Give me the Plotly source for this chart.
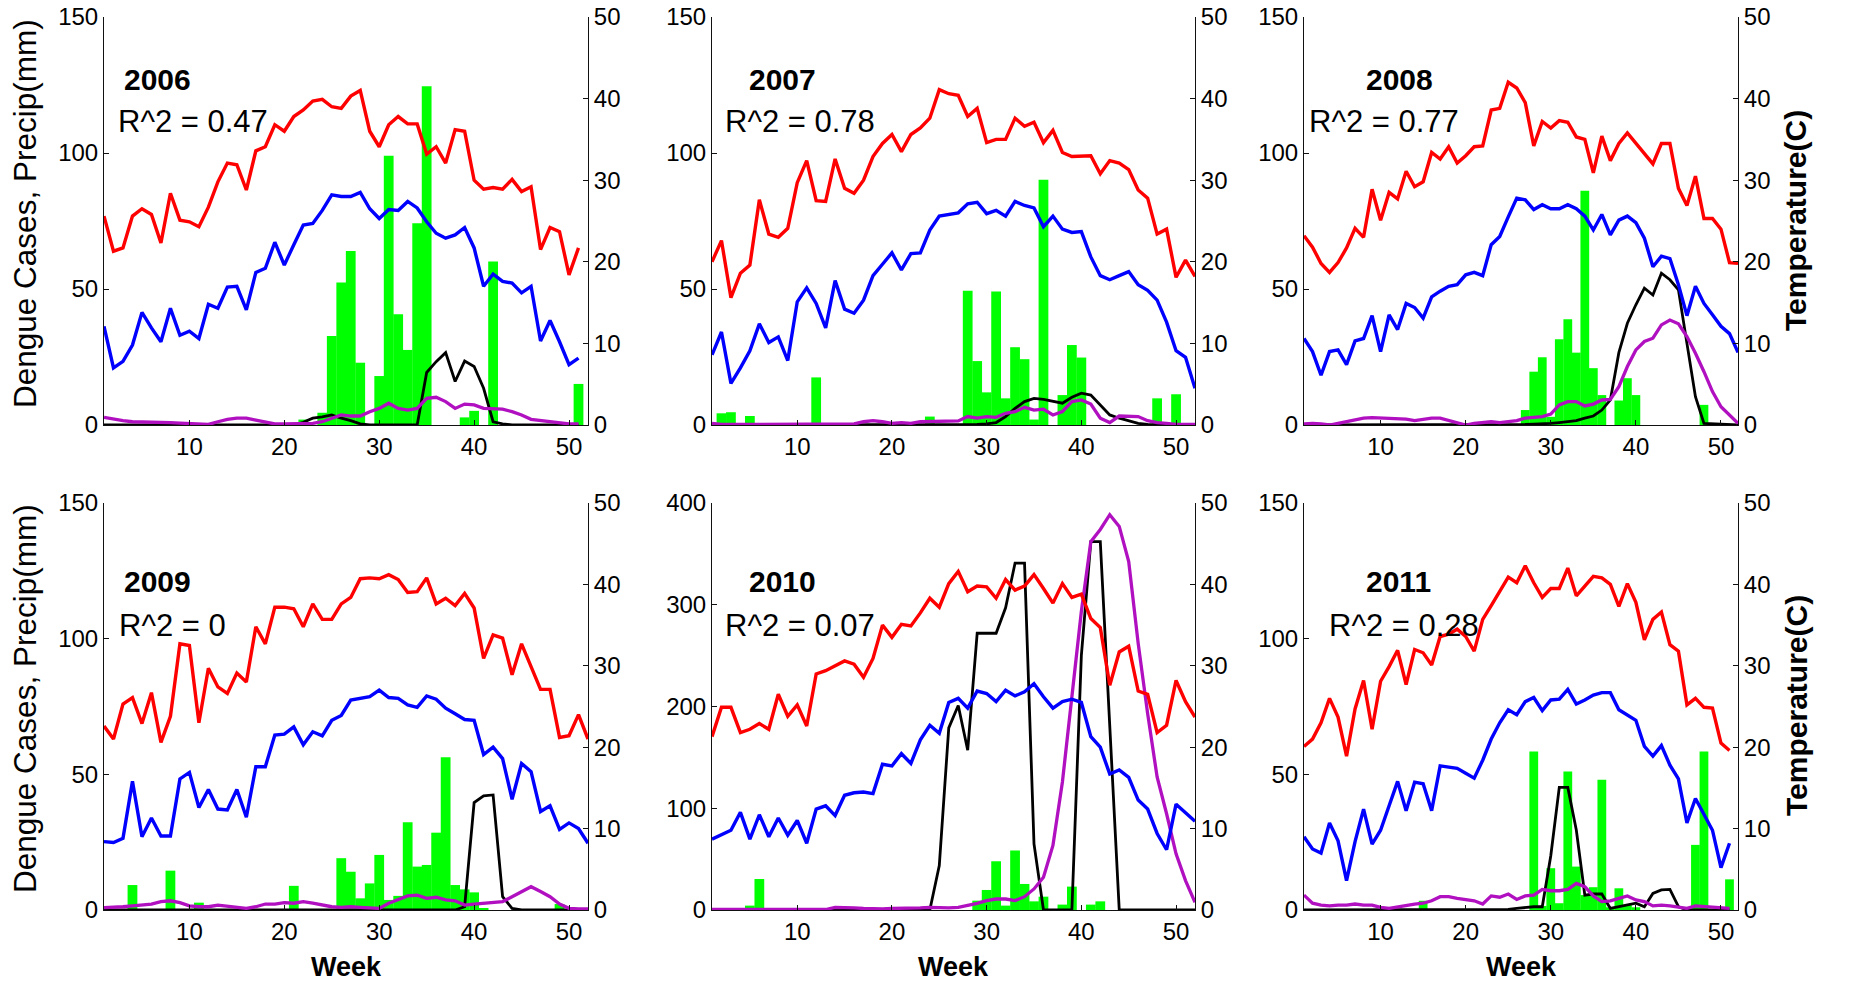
import plotly.graph_objects as go

W, H = 1872, 982
FONT = "Liberation Sans, Arial, sans-serif"

weeks = list(range(1, 53))

# ---------------- 2006 ----------------
tmax_2006 = [25.6, 21.3, 21.7, 25.6, 26.5, 25.8, 22.3, 28.4, 25.1, 24.9,
             24.3, 26.7, 29.8, 32.1, 31.9, 28.8, 33.6, 34.1, 36.8, 36.0,
             37.8, 38.6, 39.7, 39.9, 39.0, 38.8, 40.3, 41.0, 36.0, 34.1,
             36.8, 37.8, 36.9, 36.9, 33.2, 34.1, 32.1, 36.2, 36.0, 30.0,
             28.9, 29.1, 28.9, 30.1, 28.6, 29.2, 21.5, 24.2, 23.7, 18.4,
             21.7]
tmin_2006 = [12.1, 7.0, 7.8, 9.8, 13.8, 11.9, 10.2, 14.3, 11.0, 11.5,
             10.6, 14.8, 14.3, 16.9, 17.0, 14.1, 18.7, 19.2, 22.4, 19.6,
             22.1, 24.5, 24.7, 26.3, 28.2, 28.0, 28.0, 28.5, 26.5, 25.3,
             26.4, 26.3, 27.4, 26.6, 24.9, 23.5, 22.9, 23.3, 24.2, 21.7,
             17.0, 18.5, 17.6, 17.4, 16.2, 17.0, 10.3, 12.8, 10.2, 7.4,
             8.2]
precip_2006 = [0, 0, 0, 0, 0, 0, 0, 0, 0, 0,
               0, 0, 0, 0, 0, 0, 0, 0, 0, 0,
               0, 2, 0, 4.5, 32.7, 52.4, 64.0, 22.9, 0, 18.0,
               99.0, 40.7, 27.6, 74.2, 124.5, 0, 0, 0, 2.8, 5.2,
               0, 60.1, 0, 0, 0, 0, 0, 0, 0, 0,
               15.1]
cases_2006 = [0, 0, 0, 0, 0, 0, 0, 0, 0, 0,
              0, 0, 0, 0, 0, 0, 0, 0, 0, 0,
              0, 1.0, 2.5, 3.0, 3.7, 2.5, 1.6, 0.4, 0, 0,
              0, 0, 0, 0, 19.3, 23.3, 26.6, 16.0, 23.5, 21.5,
              13.5, 1.2, 0.4, 0, 0, 0, 0, 0, 0, 0,
              0]
pred_2006 = [2.8, 2.1, 1.6, 1.2, 1.2, 0.9, 0.9, 0.9, 0.7, 0.6,
             0.2, 0.2, 1.2, 2.1, 2.5, 2.5, 1.8, 1.2, 0.4, 0.4,
             0.4, 0.4, 0.6, 1.2, 2.5, 3.7, 3.3, 3.3, 4.9, 6.1,
             8.0, 6.1, 5.5, 6.1, 9.8, 10.2, 8.6, 6.1, 7.7, 7.4,
             6.1, 5.8, 5.8, 4.9, 3.7, 2.1, 1.6, 1.2, 0.6, 0.4,
             0.4]

# ---------------- 2007 ----------------
tmax_2007 = [20.0, 22.6, 15.6, 18.6, 19.6, 27.6, 23.4, 23.0, 24.1, 29.7,
             32.4, 27.5, 27.4, 32.6, 29.0, 28.4, 30.0, 32.9, 34.5, 35.6,
             33.5, 35.6, 36.4, 37.6, 41.1, 40.6, 40.4, 37.8, 38.8, 34.6,
             35.0, 35.0, 37.6, 36.6, 37.1, 34.6, 36.1, 33.4, 32.9, 32.9,
             33.0, 30.8, 32.4, 32.1, 31.3, 28.8, 27.8, 23.4, 24.0, 18.1,
             20.2, 18.2]
tmin_2007 = [8.6, 11.4, 5.1, 7.0, 9.1, 12.4, 10.1, 10.8, 7.9, 15.1,
             16.8, 14.9, 11.9, 17.7, 14.2, 13.7, 15.3, 18.3, 19.7, 21.1,
             19.0, 21.0, 21.1, 23.9, 25.6, 25.8, 26.0, 27.1, 27.3, 25.9,
             26.3, 25.6, 27.4, 26.9, 26.6, 24.3, 25.6, 24.0, 23.6, 23.7,
             20.6, 18.3, 17.8, 18.3, 18.8, 17.2, 16.5, 15.3, 12.6, 9.1,
             8.3, 4.5]
precip_2007 = [0, 4.3, 4.7, 0, 3.3, 0, 0, 0, 0, 0,
               0, 17.5, 0, 0, 0, 0, 0, 0, 0, 0,
               0, 0, 0, 3.1, 0, 0, 0, 49.4, 23.5, 12.0,
               49.1, 9.8, 28.6, 24.2, 2.0, 90.2, 0, 11.0, 29.4, 24.8,
               0, 0, 0, 0, 0, 0, 0, 9.8, 0, 11.3,
               0, 0]
cases_2007 = [0, 0, 0, 0, 0, 0, 0, 0, 0, 0,
              0, 0, 0, 0, 0, 0, 0, 0, 0, 0,
              0, 0, 0, 0, 0, 0, 0, 0, 0.2, 0.4,
              0.9, 3.1, 6.1, 8.6, 9.8, 9.4, 8.6, 8.0, 10.2, 11.7,
              11.0, 7.4, 3.7, 2.5, 1.6, 0.6, 0.2, 0, 0, 0,
              0, 0]
pred_2007 = [0.6, 0.2, 0.2, 0.2, 0.2, 0.2, 0.2, 0.2, 0.2, 0.2,
             0.2, 0.2, 0.2, 0.2, 0.2, 0.4, 1.2, 1.6, 1.2, 0.6,
             0.9, 0.6, 1.2, 1.2, 1.2, 1.2, 1.5, 3.1, 2.5, 3.1,
             2.8, 4.3, 4.9, 6.5, 5.5, 5.8, 3.7, 4.9, 8.6, 9.2,
             7.7, 2.5, 0.9, 3.3, 3.3, 3.1, 1.6, 0.9, 0.6, 0.2,
             0.2, 0.2]

# ---------------- 2008 ----------------
tmax_2008 = [23.2, 21.8, 19.8, 18.7, 19.9, 21.7, 24.1, 23.0, 28.9, 25.1,
             28.5, 27.7, 31.1, 29.2, 29.8, 33.4, 32.6, 34.1, 32.1, 33.0,
             34.1, 34.2, 38.6, 38.8, 42.0, 41.3, 39.5, 34.2, 37.2, 36.4,
             37.3, 37.1, 35.3, 35.0, 30.9, 35.4, 32.4, 34.5, 35.8, 34.5,
             33.3, 32.0, 34.5, 34.5, 29.0, 26.9, 30.5, 25.3, 25.3, 24.0,
             19.9, 19.8]
tmin_2008 = [10.6, 9.0, 6.1, 9.0, 9.2, 7.4, 10.3, 10.6, 13.4, 9.0,
             13.5, 11.7, 14.9, 14.4, 13.1, 15.7, 16.4, 17.0, 17.2, 18.4,
             18.7, 18.3, 22.1, 23.1, 25.5, 27.8, 27.6, 26.4, 27.0, 26.5,
             26.5, 27.0, 26.5, 25.6, 23.9, 25.8, 23.3, 25.1, 25.6, 24.8,
             22.9, 19.4, 20.7, 20.4, 17.2, 13.4, 17.0, 14.9, 13.5, 12.1,
             11.2, 8.9]
precip_2008 = [0, 0, 0, 0, 0, 0, 0, 0, 0, 0,
               0, 0, 0, 0, 0, 0, 0, 0, 0, 0,
               0, 0, 0, 0, 0, 0, 5.5, 19.6, 24.9, 3.0,
               31.5, 38.9, 26.6, 86.1, 20.9, 11.0, 0, 9.0, 17.2, 11.0,
               0, 0, 0, 0, 0, 0, 0, 7.4, 0, 0,
               0, 0]
cases_2008 = [0, 0, 0, 0, 0, 0, 0, 0, 0, 0,
              0, 0, 0, 0, 0, 0, 0, 0, 0, 0,
              0, 0, 0, 0, 0, 0, 0.2, 0.3, 0.4, 0.6,
              0.9, 1.2, 1.6, 2.5, 3.3, 5.5, 9.2, 26.6, 37.4, 44.2,
              50.3, 47.8, 55.8, 53.4, 49.7, 30.0, 10.4, 0.6, 0.4, 0.2,
              0.1, 0]
pred_2008 = [0.4, 0.6, 0.4, 0, 0.6, 1.2, 1.8, 2.5, 2.7, 2.5,
             2.5, 2.2, 2.2, 1.6, 2.1, 2.5, 2.5, 1.6, 0.6, 0,
             0.6, 0.9, 1.2, 0.9, 1.2, 1.6, 2.5, 2.8, 3.1, 4.0,
             7.4, 8.6, 8.6, 7.0, 7.7, 9.2, 9.4, 14.1, 21.5, 27.6,
             30.7, 31.9, 36.8, 38.6, 37.2, 32.5, 26.4, 19.6, 12.3, 6.7,
             3.7, 0.6]

# ---------------- 2009 ----------------
tmax_2009 = [22.6, 21.0, 25.3, 26.1, 22.9, 26.7, 20.6, 23.8, 32.7, 32.5,
             23.0, 29.7, 27.4, 26.6, 29.1, 28.0, 34.8, 32.7, 37.2, 37.2,
             37.0, 34.8, 37.6, 35.7, 35.7, 37.6, 38.4, 40.7, 40.8, 40.7,
             41.2, 40.6, 39.0, 39.1, 40.8, 37.6, 38.3, 37.4, 38.9, 37.1,
             30.9, 33.8, 33.4, 28.9, 32.7, 29.8, 27.1, 27.1, 21.2, 21.4,
             24.0, 21.0]
tmin_2009 = [8.4, 8.3, 8.8, 15.8, 9.0, 11.3, 9.1, 9.1, 16.1, 16.9,
             12.6, 14.8, 12.4, 12.3, 14.8, 11.4, 17.6, 17.6, 21.5, 21.6,
             22.5, 20.3, 21.9, 21.4, 23.3, 23.9, 25.8, 26.0, 26.2, 27.0,
             26.1, 26.0, 25.2, 24.9, 26.3, 25.9, 24.8, 24.1, 23.4, 23.3,
             19.1, 20.0, 18.6, 13.6, 18.0, 17.0, 12.1, 12.8, 9.9, 10.7,
             10.0, 8.2]
precip_2009 = [0, 0, 0, 9.2, 0, 0, 0, 14.5, 0, 0,
               2.7, 0, 0, 0, 0, 0, 0, 0, 0, 0,
               8.9, 0, 0, 0, 0, 19.1, 14.1, 4.3, 9.8, 20.3,
               3.7, 5.2, 32.3, 16.0, 16.6, 28.5, 56.3, 9.2, 7.6, 6.5,
               0.6, 0, 0, 0, 0, 0, 0, 0, 2.2, 0,
               0, 0]
cases_2009 = [0, 0, 0, 0, 0, 0, 0, 0, 0, 0,
              0, 0, 0, 0, 0, 0, 0, 0, 0, 0,
              0, 0, 0, 0, 0, 0, 0, 0, 0, 0,
              0, 0, 0, 0, 0, 0, 0, 0, 1.2, 39.6,
              42.1, 42.4, 4.9, 0.6, 0, 0, 0, 0, 0, 0,
              0, 0]
pred_2009 = [0.9, 0.9, 1.2, 1.5, 1.8, 2.2, 3.1, 3.4, 2.7, 1.5,
             1.2, 1.2, 1.8, 1.5, 1.0, 0.6, 1.2, 2.2, 2.2, 2.7,
             2.5, 3.1, 2.5, 1.8, 1.2, 1.0, 1.2, 1.0, 0.9, 0.6,
             2.5, 3.9, 5.2, 5.5, 4.3, 4.7, 3.7, 3.4, 1.8, 2.2,
             2.5, 3.1, 3.1, 4.9, 6.8, 8.6, 6.8, 4.9, 2.2, 0.6,
             0.4, 0.4]

# ---------------- 2010 ----------------
tmax_2010 = [21.3, 24.9, 24.9, 21.8, 22.2, 22.9, 22.2, 26.5, 23.8, 25.2,
             22.6, 29.0, 29.4, 30.0, 30.6, 30.2, 28.6, 30.9, 35.0, 33.5,
             35.1, 34.9, 36.5, 38.3, 37.2, 40.1, 41.6, 39.1, 39.8, 39.7,
             38.3, 40.6, 39.3, 39.8, 41.2, 39.5, 37.7, 40.1, 38.4, 38.8,
             35.8, 34.7, 27.6, 31.7, 32.4, 26.9, 26.5, 21.8, 22.7, 28.2,
             25.6, 23.7]
tmin_2010 = [8.7, 9.3, 9.8, 12.0, 8.7, 11.7, 9.0, 11.3, 9.2, 11.0,
             8.2, 12.4, 12.8, 11.6, 14.1, 14.4, 14.5, 14.3, 17.9, 17.7,
             19.2, 18.0, 20.9, 22.7, 21.7, 25.5, 26.0, 24.8, 26.9, 26.6,
             25.6, 27.0, 26.3, 26.8, 27.8, 26.2, 24.8, 25.6, 25.9, 25.5,
             21.3, 20.0, 16.7, 17.2, 16.3, 13.5, 12.4, 9.4, 7.4, 13.0,
             12.0, 10.9]
precip_2010 = [0, 0, 0, 0, 4.3, 30.5, 0, 0, 0, 0,
               0, 0, 0, 0, 0, 0, 0, 0, 0, 0,
               0, 0, 0, 0, 0, 0, 0, 0, 9.2, 19.7,
               47.9, 4.3, 58.5, 25.6, 8.5, 13.1, 0, 5.3, 23.0, 0,
               5.3, 8.5, 0, 0, 0, 0, 0, 0, 0, 0,
               0, 0]
cases_2010 = [0, 0, 0, 0, 0, 0, 0, 0, 0, 0,
              0, 0, 0, 0, 0, 0, 0, 0, 0, 0,
              0, 0, 0, 0, 43.7, 179, 201, 157, 272, 272,
              272, 297, 341, 341, 65, 0, 0, 0, 0, 250,
              362, 362, 180, 0, 0, 0, 0, 0, 0, 0,
              0, 0]
pred_2010 = [0.5, 0.5, 0.5, 0.5, 0.5, 0.5, 0.5, 0.5, 0.5, 0.5,
             0.5, 0.5, 0.5, 2.6, 2.6, 2.0, 1.5, 1.2, 1.2, 1.5,
             1.5, 1.5, 2.0, 2.6, 2.0, 2.0, 2.6, 4.3, 6.6, 9.2,
             10.8, 10.8, 9.2, 13.1, 20.7, 32.2, 63.4, 125.8, 212.8, 293.3,
             362, 374, 388.5, 377, 342.5, 262, 193, 130.7, 94.6, 55.2,
             28.9, 7.6]

# ---------------- 2011 ----------------
tmax_2011 = [20.1, 21.0, 23.0, 26.0, 23.7, 18.9, 24.7, 28.2, 22.2, 28.1,
             29.9, 31.9, 27.7, 32.0, 31.6, 30.1, 33.6, 33.9, 34.5, 33.6,
             31.8, 35.7, 37.4, 39.1, 40.9, 40.2, 42.3, 40.2, 38.4, 39.5,
             39.5, 42.0, 38.6, 39.8, 41.0, 40.8, 40.0, 37.3, 40.1, 37.8,
             33.2, 35.7, 36.6, 32.6, 31.8, 25.2, 26.0, 24.9, 24.8, 20.5,
             19.6]
tmin_2011 = [9.0, 7.5, 7.0, 10.7, 8.5, 3.6, 8.4, 12.4, 8.1, 9.8,
             12.8, 15.8, 12.2, 15.7, 15.5, 12.2, 17.7, 17.5, 17.4, 16.8,
             16.2, 18.4, 21.0, 23.0, 24.6, 24.0, 25.6, 26.1, 24.5, 25.8,
             25.9, 27.1, 25.3, 25.8, 26.4, 26.7, 26.7, 24.6, 24.0, 23.3,
             20.1, 18.9, 20.2, 17.8, 16.1, 10.7, 13.7, 11.7, 9.8, 5.2,
             8.2]
precip_2011 = [0, 0, 0, 0, 0, 0, 0, 0, 0, 0,
               0, 0, 0, 0, 3.4, 0, 0, 0, 0, 0,
               0, 0, 0, 0, 0, 0, 0, 58.4, 1.5, 15.4,
               2.5, 51.0, 16.0, 5.5, 8.4, 48.0, 1.0, 8.0, 1.8, 1.0,
               0, 0, 0, 0, 0, 0, 24.0, 58.4, 0, 0,
               11.3]
cases_2011 = [0, 0, 0, 0, 0, 0, 0, 0, 0, 0,
              0, 0, 0, 0, 0, 0, 0, 0, 0, 0,
              0, 0, 0, 0, 0.2, 0.6, 1.0, 1.2, 1.2, 20.0,
              45.2, 45.2, 29.5, 5.5, 5.9, 5.9, 0.6, 1.2, 1.8, 2.5,
              1.2, 6.1, 7.4, 7.6, 1.2, 0, 0, 0, 0, 0,
              0]
pred_2011 = [5.5, 2.5, 1.8, 1.5, 1.8, 1.8, 2.2, 1.8, 1.8, 1.0,
             0.6, 1.2, 1.5, 2.2, 2.5, 3.4, 4.9, 4.9, 4.3, 3.7,
             3.4, 2.2, 5.2, 4.7, 5.9, 3.9, 5.2, 5.5, 7.6, 7.1,
             7.1, 7.6, 9.8, 8.6, 5.2, 3.1, 3.4, 4.3, 5.2, 3.7,
             3.1, 1.5, 1.8, 1.5, 1.2, 0.6, 1.5, 1.2, 1.0, 0.6,
             0.6]

year_labels = ["2006", "2007", "2008", "2009", "2010", "2011"]
r2_labels = ["R^2 = 0.47", "R^2 = 0.78", "R^2 = 0.77", "R^2 = 0", "R^2 = 0.07", "R^2 = 0.28"]
left_max = [150, 150, 150, 150, 400, 150]
left_ticks = [[0, 50, 100, 150]] * 4 + [[0, 100, 200, 300, 400]] + [[0, 50, 100, 150]]
temp_ticks = [0, 10, 20, 30, 40, 50]
week_ticks = [10, 20, 30, 40, 50]

series = [
    (tmax_2006, tmin_2006, precip_2006, cases_2006, pred_2006),
    (tmax_2007, tmin_2007, precip_2007, cases_2007, pred_2007),
    (tmax_2008, tmin_2008, precip_2008, cases_2008, pred_2008),
    (tmax_2009, tmin_2009, precip_2009, cases_2009, pred_2009),
    (tmax_2010, tmin_2010, precip_2010, cases_2010, pred_2010),
    (tmax_2011, tmin_2011, precip_2011, cases_2011, pred_2011),
]

# panel boxes in pixels (left, right, top, bottom)
boxes = [
    (104, 588, 17, 425), (712, 1195, 17, 425), (1304, 1738, 17, 425),
    (104, 588, 503, 910), (712, 1195, 503, 910), (1304, 1738, 503, 910),
]
# text positions in pixels: (year x-left, r2 x-left, year y-centre, r2 y-centre)
text_pos = [(122, 116, 79, 121.5), (747, 723, 79, 121.5), (1364, 1307, 79, 121.5),
            (122, 117, 581, 625), (747, 723, 581, 625), (1364, 1327, 581, 625)]

RED, BLUE, GREEN, BLACK, PURPLE = "#FF0000", "#0000FF", "#00FF00", "#000000", "#B010C0"


def px(x):
    return x / W


def py(y):
    return 1 - y / H


def ref(prefix, n):
    return prefix if n == 1 else f"{prefix}{n}"


fig = go.Figure()
layout = {}
annotations = []

axis_common = dict(
    showgrid=False, zeroline=False, showline=True, linecolor="#111111", linewidth=1,
    ticks="inside", ticklen=5, tickwidth=1, tickcolor="#111111", automargin=False,
    tickfont=dict(family=FONT, size=24, color="black"),
)

for k in range(6):
    tmax, tmin, precip, cases, pred = series[k]
    xid, yl, yr = k + 1, 2 * k + 1, 2 * k + 2
    xr, ylr, yrr = ref("x", xid), ref("y", yl), ref("y", yr)
    l, r, t, b = boxes[k]

    wk = weeks[:len(precip)]
    fig.add_trace(go.Bar(x=wk, y=precip, width=[1.03] * len(wk),
                         marker=dict(color=GREEN, line=dict(width=0)),
                         xaxis=xr, yaxis=ylr, showlegend=False))
    fig.add_trace(go.Scatter(x=weeks[:len(cases)], y=cases, mode="lines", line=dict(color=BLACK, width=2.8),
                             xaxis=xr, yaxis=ylr, showlegend=False))
    fig.add_trace(go.Scatter(x=weeks[:len(pred)], y=pred, mode="lines", line=dict(color=PURPLE, width=3.3),
                             xaxis=xr, yaxis=ylr, showlegend=False))
    fig.add_trace(go.Scatter(x=weeks[:len(tmax)], y=tmax, mode="lines", line=dict(color=RED, width=3.4),
                             xaxis=xr, yaxis=yrr, showlegend=False))
    fig.add_trace(go.Scatter(x=weeks[:len(tmin)], y=tmin, mode="lines", line=dict(color=BLUE, width=3.4),
                             xaxis=xr, yaxis=yrr, showlegend=False))

    layout[ref("xaxis", xid)] = dict(
        axis_common, domain=[px(l), px(r)], anchor=ylr, range=[1, 52],
        tickvals=week_ticks, ticktext=[str(v) for v in week_ticks],
    )
    layout[ref("yaxis", yl)] = dict(
        axis_common, domain=[py(b), py(t)], anchor=xr, range=[0, left_max[k]],
        tickvals=left_ticks[k], ticktext=[str(v) for v in left_ticks[k]],
    )
    layout[ref("yaxis", yr)] = dict(
        axis_common, domain=[py(b), py(t)], anchor=xr, overlaying=ylr, side="right",
        range=[0, 50], tickvals=temp_ticks, ticktext=[str(v) for v in temp_ticks],
    )

    yx, rx, yy, ry = text_pos[k]
    annotations.append(dict(text="<b>" + year_labels[k] + "</b>", xref="paper", yref="paper",
                            x=px(yx), y=py(yy), xanchor="left", yanchor="middle", showarrow=False,
                            font=dict(family=FONT, size=30, color="black")))
    annotations.append(dict(text=r2_labels[k], xref="paper", yref="paper",
                            x=px(rx), y=py(ry), xanchor="left", yanchor="middle", showarrow=False,
                            font=dict(family=FONT, size=31, color="black")))
    if k >= 3:
        annotations.append(dict(text="<b>Week</b>", xref="paper", yref="paper",
                                x=px((l + r) / 2), y=py(967), xanchor="center", yanchor="middle",
                                showarrow=False, font=dict(family=FONT, size=27, color="black")))

for yc in (214, 699):
    annotations.append(dict(text="Dengue Cases, Precip(mm)", xref="paper", yref="paper",
                            x=px(25), y=py(yc), xanchor="center", yanchor="middle", textangle=-90,
                            showarrow=False, font=dict(family=FONT, size=31.5, color="black")))
for yc in (221, 706):
    annotations.append(dict(text="<b>Temperature(C)</b>", xref="paper", yref="paper",
                            x=px(1796), y=py(yc), xanchor="center", yanchor="middle", textangle=-90,
                            showarrow=False, font=dict(family=FONT, size=30, color="black")))

fig.update_layout(
    template="none",
    width=W, height=H, autosize=False,
    margin=dict(l=0, r=0, t=0, b=0, pad=0),
    paper_bgcolor="white", plot_bgcolor="rgba(0,0,0,0)",
    barmode="overlay", showlegend=False,
    font=dict(family=FONT, color="black"),
    annotations=annotations,
    **layout,
)

fig.write_html("out.html")
